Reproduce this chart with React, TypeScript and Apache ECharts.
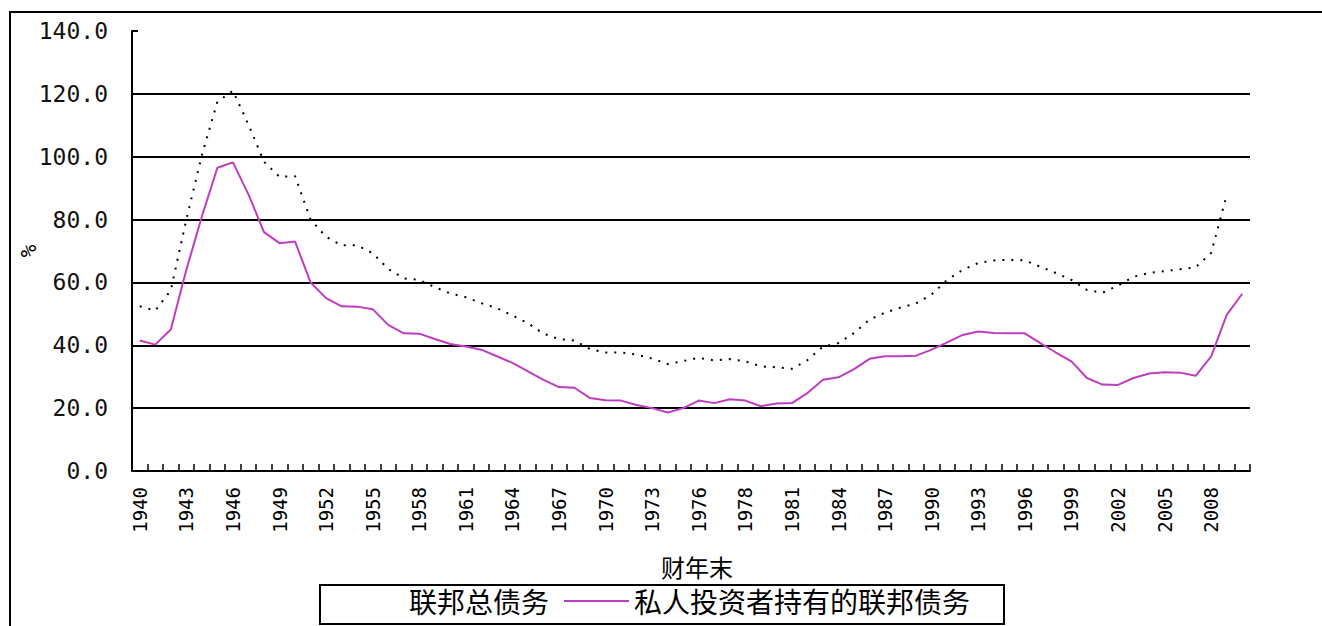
import React, { useEffect, useRef } from "react";
import * as echarts from "echarts";

// Fiscal year-end categories (1976TQ = transition quarter)
const years = [
  "1940", "1941", "1942", "1943", "1944", "1945", "1946", "1947", "1948", "1949",
  "1950", "1951", "1952", "1953", "1954", "1955", "1956", "1957", "1958", "1959",
  "1960", "1961", "1962", "1963", "1964", "1965", "1966", "1967", "1968", "1969",
  "1970", "1971", "1972", "1973", "1974", "1975", "1976", "1976TQ", "1977", "1978",
  "1979", "1980", "1981", "1982", "1983", "1984", "1985", "1986", "1987", "1988",
  "1989", "1990", "1991", "1992", "1993", "1994", "1995", "1996", "1997", "1998",
  "1999", "2000", "2001", "2002", "2003", "2004", "2005", "2006", "2007", "2008",
  "2009", "2010",
];

// Gross federal debt, % of GDP
const totalDebt: (number | null)[] = [
  52.4, 51.0, 57.5, 80.0, 100.5, 117.5, 121.0, 110.2, 98.4, 93.6,
  93.8, 80.0, 74.5, 71.8, 71.8, 69.3, 64.3, 61.3, 60.8, 58.5,
  56.5, 55.3, 53.4, 51.8, 49.5, 47.0, 43.7, 42.0, 41.5, 38.8,
  37.7, 37.7, 37.0, 35.8, 34.0, 35.0, 36.0, 35.2, 35.6, 34.9,
  33.3, 33.0, 32.5, 35.3, 39.6, 40.7, 43.9, 48.2, 50.4, 52.0,
  53.3, 56.2, 60.8, 64.0, 66.2, 67.0, 67.2, 67.0, 65.0, 63.0,
  60.8, 57.6, 56.7, 59.0, 61.8, 63.0, 63.6, 64.2, 64.8, 69.4,
  87.8, null,
];

// Federal debt held by private investors, % of GDP
const privateDebt: number[] = [
  41.5, 40.2, 45.0, 64.0, 81.0, 96.5, 98.2, 88.0, 76.0, 72.5,
  73.0, 60.0, 55.0, 52.4, 52.3, 51.5, 46.5, 43.8, 43.7, 42.0,
  40.4, 39.6, 38.6, 36.5, 34.4, 31.7, 29.0, 26.7, 26.5, 23.2,
  22.5, 22.4, 21.0, 20.0, 18.6, 20.0, 22.4, 21.6, 22.8, 22.4,
  20.6, 21.5, 21.6, 24.8, 29.0, 29.8, 32.4, 35.7, 36.5, 36.5,
  36.7, 38.6, 40.9, 43.3, 44.4, 43.9, 43.8, 43.8, 40.7, 37.7,
  34.9, 29.6, 27.5, 27.4, 29.6, 31.0, 31.4, 31.3, 30.3, 36.5,
  49.7, 56.4,
];

const seriesNames = ["联邦总债务", "私人投资者持有的联邦债务"];
const xAxisTitle = "财年末";
const yAxisTitle = "%";

const MONO = "'DejaVu Sans Mono', monospace";
const CJK = "'Noto Sans CJK SC', sans-serif";

export default function App() {
  const ref = useRef<HTMLDivElement>(null);

  useEffect(() => {
    if (!ref.current) return;
    const chart = echarts.init(ref.current, null, { renderer: "svg" });
    chart.setOption({
      animation: false,
      backgroundColor: "#ffffff",
      grid: { left: 132, right: 72, top: 31, bottom: 155, containLabel: false },
      graphic: [
        {
          type: "rect",
          silent: true,
          z: -10,
          shape: { x: 10, y: 12, width: 1340, height: 660 },
          style: { fill: "none", stroke: "#000", lineWidth: 2 },
        },
        {
          type: "text",
          silent: true,
          x: 697,
          y: 566,
          style: {
            text: xAxisTitle,
            fontFamily: CJK,
            fontSize: 24,
            fill: "#000",
            align: "center",
            verticalAlign: "middle",
          },
        },
        {
          type: "text",
          silent: true,
          x: 29,
          y: 251,
          rotation: Math.PI / 2,
          style: {
            text: yAxisTitle,
            fontFamily: MONO,
            fontSize: 21,
            fill: "#000",
            align: "center",
            verticalAlign: "middle",
          },
        },
      ],
      legend: {
        left: 320,
        top: 585,
        padding: [1, 34, 8, 18],
        itemWidth: 65,
        itemHeight: 14,
        itemGap: 14,
        borderColor: "#000",
        borderWidth: 2,
        backgroundColor: "#fff",
        textStyle: { fontFamily: CJK, fontSize: 28, color: "#000", lineHeight: 30 },
        data: [
          { name: seriesNames[0], itemStyle: { opacity: 0 }, lineStyle: { opacity: 0 } },
          { name: seriesNames[1], itemStyle: { opacity: 0 } },
        ],
      },
      xAxis: {
        type: "category",
        data: years,
        boundaryGap: true,
        axisLine: { lineStyle: { color: "#000", width: 2 } },
        axisTick: { show: true, inside: true, length: 7, interval: 0, lineStyle: { color: "#000", width: 1.5 } },
        axisLabel: {
          interval: 2,
          rotate: 90,
          margin: 16,
          fontFamily: MONO,
          fontSize: 19,
          color: "#000",
        },
        splitLine: { show: false },
      },
      yAxis: {
        type: "value",
        min: 0,
        max: 140,
        interval: 20,
        axisLine: { show: true, lineStyle: { color: "#000", width: 2 } },
        axisTick: { show: true, inside: true, length: 6, lineStyle: { color: "#000", width: 2 } },
        axisLabel: {
          margin: 24,
          fontFamily: MONO,
          fontSize: 23,
          color: "#111",
          formatter: (v: number) => v.toFixed(1),
        },
        splitLine: {
          show: true,
          showMinLine: false,
          showMaxLine: false,
          lineStyle: { color: "#000", width: 2 },
        },
      },
      series: [
        {
          name: seriesNames[0],
          type: "line",
          data: totalDebt,
          symbol: "none",
          connectNulls: false,
          lineStyle: { color: "#000", width: 2, type: [2, 7], cap: "butt" },
          itemStyle: { color: "#000" },
          z: 3,
        },
        {
          name: seriesNames[1],
          type: "line",
          data: privateDebt,
          symbol: "none",
          lineStyle: { color: "#c03cc0", width: 2 },
          itemStyle: { color: "#c03cc0" },
          z: 2,
        },
      ],
    });
    return () => chart.dispose();
  }, []);

  return (
    <div
      ref={ref}
      style={{ position: "absolute", left: 0, top: 0, width: 1322, height: 626, background: "#fff" }}
    />
  );
}
